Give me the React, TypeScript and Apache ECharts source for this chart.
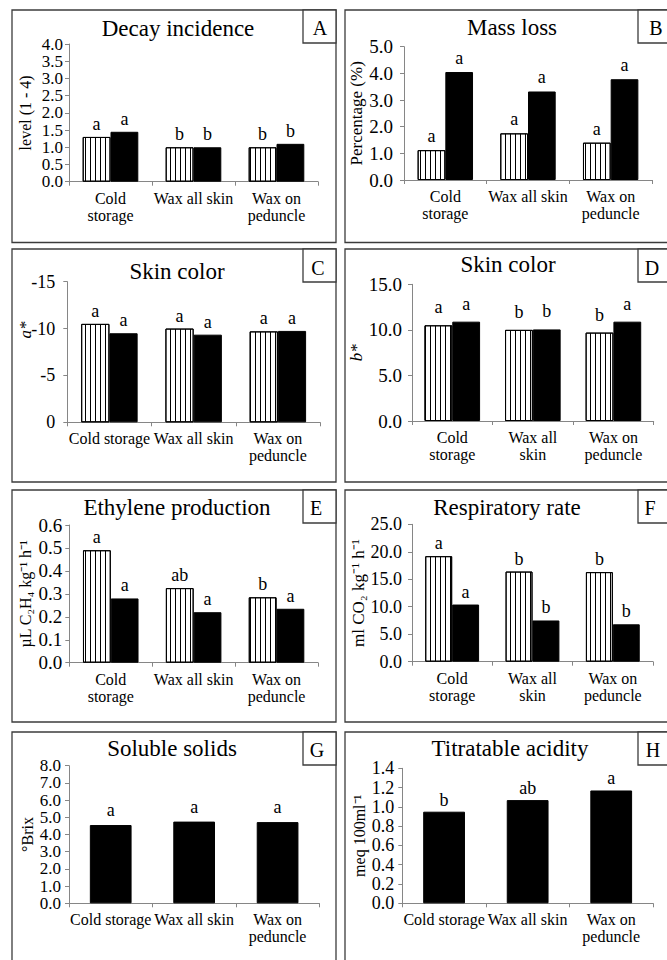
import React, { useEffect, useRef } from "react";
import * as echarts from "echarts";

// ---------- data ----------
const categories = ["Cold storage", "Wax all skin", "Wax on peduncle"];
const labelsTwoLine = ["Cold\nstorage", "Wax all skin", "Wax on\npeduncle"];
const labelsOneLine = ["Cold storage", "Wax all skin", "Wax on\npeduncle"];
const labelsNarrow = ["Cold\nstorage", "Wax all\nskin", "Wax on\npeduncle"];

// A Decay incidence
const decayStriped = [1.3, 1.0, 1.0];
const decayBlack = [1.45, 1.0, 1.1];
const decayStripedLetters = ["a", "b", "b"];
const decayBlackLetters = ["a", "b", "b"];
// B Mass loss
const massStriped = [1.12, 1.75, 1.4];
const massBlack = [4.05, 3.32, 3.78];
const massStripedLetters = ["a", "a", "a"];
const massBlackLetters = ["a", "a", "a"];
// C Skin color a*
const aStarStriped = [-10.5, -10.0, -9.7];
const aStarBlack = [-9.5, -9.35, -9.75];
const aStarStripedLetters = ["a", "a", "a"];
const aStarBlackLetters = ["a", "a", "a"];
// D Skin color b*
const bStarStriped = [10.5, 10.0, 9.7];
const bStarBlack = [10.9, 10.05, 10.9];
const bStarStripedLetters = ["a", "b", "b"];
const bStarBlackLetters = ["a", "b", "a"];
// E Ethylene production
const ethyleneStriped = [0.49, 0.325, 0.285];
const ethyleneBlack = [0.28, 0.22, 0.235];
const ethyleneStripedLetters = ["a", "ab", "b"];
const ethyleneBlackLetters = ["a", "a", "a"];
// F Respiratory rate
const respStriped = [19.2, 16.4, 16.3];
const respBlack = [10.4, 7.5, 6.8];
const respStripedLetters = ["a", "b", "b"];
const respBlackLetters = ["a", "b", "b"];
// G Soluble solids
const solidsBlack = [4.55, 4.75, 4.72];
const solidsLetters = ["a", "a", "a"];
// H Titratable acidity
const acidityBlack = [0.95, 1.07, 1.17];
const acidityLetters = ["b", "ab", "a"];

const FONT = "Liberation Serif";

type SeriesDef = { values: number[]; letters: string[]; striped: boolean };
type Panel = {
  letter: string;
  title: string;
  titleX: number;
  titleY: number;
  col: number;
  row: number;
  letterX: number;
  letterY: number;
  grid: [number, number, number, number]; // left, top, right, bottom
  min: number;
  max: number;
  interval: number;
  decimals: number;
  inverse?: boolean;
  yName: string;
  nameGap: number;
  nameSize: number;
  tickSize: number;
  labelMargin: number;
  labels: string[];
  series: SeriesDef[];
  labelDist: number;
  gap: string;
};

const panels: Panel[] = [
  {
    letter: "A", title: "Decay incidence", titleX: 178, titleY: 28, col: 0, row: 0, letterX: 320, letterY: 28,
    grid: [69, 44, 318, 181.7], min: 0, max: 4, interval: 0.5, decimals: 1,
    yName: "level (1 - 4)", nameGap: 36, nameSize: 16, tickSize: 17, labelMargin: 6, labels: labelsTwoLine,
    series: [
      { values: decayStriped, letters: decayStripedLetters, striped: true },
      { values: decayBlack, letters: decayBlackLetters, striped: false },
    ],
    labelDist: 4, gap: "33%",
  },
  {
    letter: "B", title: "Mass loss", titleX: 512, titleY: 27.5, col: 1, row: 0, letterX: 656, letterY: 28,
    grid: [404, 46.7, 652, 180], min: 0, max: 5, interval: 1, decimals: 1,
    yName: "Percentage (%)", nameGap: 35, nameSize: 17, tickSize: 19, labelMargin: 11, labels: labelsTwoLine,
    series: [
      { values: massStriped, letters: massStripedLetters, striped: true },
      { values: massBlack, letters: massBlackLetters, striped: false },
    ],
    labelDist: 5, gap: "33%",
  },
  {
    letter: "C", title: "Skin color", titleX: 177, titleY: 271, col: 0, row: 1, letterX: 318, letterY: 268,
    grid: [67.3, 281.7, 320, 422.3], min: -15, max: 0, interval: 5, decimals: 0, inverse: true,
    yName: "", nameGap: 36, nameSize: 16, tickSize: 18, labelMargin: 12, labels: labelsOneLine,
    series: [
      { values: aStarStriped, letters: aStarStripedLetters, striped: true },
      { values: aStarBlack, letters: aStarBlackLetters, striped: false },
    ],
    labelDist: 4, gap: "33%",
  },
  {
    letter: "D", title: "Skin color", titleX: 508, titleY: 264, col: 1, row: 1, letterX: 652, letterY: 268,
    grid: [412, 284.3, 653.7, 421], min: 0, max: 15, interval: 5, decimals: 1,
    yName: "b*", nameGap: 46, nameSize: 17, tickSize: 19, labelMargin: 10, labels: labelsNarrow,
    series: [
      { values: bStarStriped, letters: bStarStripedLetters, striped: true },
      { values: bStarBlack, letters: bStarBlackLetters, striped: false },
    ],
    labelDist: 9, gap: "31%",
  },
  {
    letter: "E", title: "Ethylene production", titleX: 177, titleY: 507.5, col: 0, row: 2, letterX: 316, letterY: 508,
    grid: [69.3, 525, 318, 662.7], min: 0, max: 0.6, interval: 0.1, decimals: 1,
    yName: "µL C₂H₄ kg⁻¹ h⁻¹", nameGap: 36, nameSize: 16, tickSize: 19, labelMargin: 7, labels: labelsTwoLine,
    series: [
      { values: ethyleneStriped, letters: ethyleneStripedLetters, striped: true },
      { values: ethyleneBlack, letters: ethyleneBlackLetters, striped: false },
    ],
    labelDist: 4, gap: "33%",
  },
  {
    letter: "F", title: "Respiratory rate", titleX: 507, titleY: 507.5, col: 1, row: 2, letterX: 650, letterY: 508,
    grid: [412, 524.3, 653, 661.7], min: 0, max: 25, interval: 5, decimals: 1,
    yName: "ml CO₂ kg⁻¹ h⁻¹", nameGap: 44, nameSize: 17, tickSize: 18, labelMargin: 10, labels: labelsNarrow,
    series: [
      { values: respStriped, letters: respStripedLetters, striped: true },
      { values: respBlack, letters: respBlackLetters, striped: false },
    ],
    labelDist: 4, gap: "33%",
  },
  {
    letter: "G", title: "Soluble solids", titleX: 172, titleY: 748.3, col: 0, row: 3, letterX: 317, letterY: 750,
    grid: [69, 765.7, 319.3, 903.3], min: 0, max: 8, interval: 1, decimals: 1,
    yName: "°Brix", nameGap: 34, nameSize: 16, tickSize: 17, labelMargin: 8, labels: labelsOneLine,
    series: [{ values: solidsBlack, letters: solidsLetters, striped: false }],
    labelDist: 6, gap: "50%",
  },
  {
    letter: "H", title: "Titratable acidity", titleX: 510, titleY: 748, col: 1, row: 3, letterX: 653, letterY: 750,
    grid: [402.3, 768.3, 653, 903.3], min: 0, max: 1.4, interval: 0.2, decimals: 1,
    yName: "meq 100ml⁻¹", nameGap: 35, nameSize: 16, tickSize: 18, labelMargin: 8, labels: labelsOneLine,
    series: [{ values: acidityBlack, letters: acidityLetters, striped: false }],
    labelDist: 3, gap: "50%",
  },
];

const colX = [[12, 336], [345, 690]];
const rowY = [[10, 242.5], [249, 482], [490, 722], [732, 980]];

const stripeDecal = {
  symbol: "rect",
  symbolSize: 1,
  color: "#000",
  dashArrayX: [1, 3.5],
  dashArrayY: [4, 0],
  rotation: 0,
};

const AXIS_GRAY = "#868686";

export default function App() {
  const ref = useRef<HTMLDivElement>(null);
  useEffect(() => {
    if (!ref.current) return;
    const chart = echarts.init(ref.current, undefined, { renderer: "svg" });

    const grid: any[] = [];
    const xAxis: any[] = [];
    const yAxis: any[] = [];
    const series: any[] = [];
    const graphic: any[] = [];

    panels.forEach((p, i) => {
      const [l, t, r, b] = p.grid;
      grid.push({ left: l, top: t, width: r - l, height: b - t, containLabel: false });
      xAxis.push({
        type: "category",
        gridIndex: i,
        data: p.labels,
        axisLine: { show: true, lineStyle: { color: AXIS_GRAY, width: 1 } },
        axisTick: { show: true, length: 4, lineStyle: { color: AXIS_GRAY } },
        axisLabel: { interval: 0, fontFamily: FONT, fontSize: 16, lineHeight: 17, color: "#000", margin: 8 },
      });
      yAxis.push({
        type: "value",
        gridIndex: i,
        min: p.min,
        max: p.max,
        interval: p.interval,
        inverse: !!p.inverse,
        axisLine: { show: true, lineStyle: { color: AXIS_GRAY, width: 1 } },
        axisTick: { show: true, length: 4, lineStyle: { color: AXIS_GRAY } },
        splitLine: { show: false },
        axisLabel: {
          fontFamily: FONT,
          fontSize: p.tickSize,
          color: "#000",
          margin: p.labelMargin,
          showMinLabel: true,
          showMaxLabel: true,
          hideOverlap: false,
          formatter: (v: number) => v.toFixed(p.decimals),
        },
        name: p.yName,
        nameLocation: "middle",
        nameGap: p.nameGap,
        nameRotate: 90,
        nameTextStyle: {
          fontFamily: FONT,
          fontSize: p.nameSize,
          color: "#000",
          fontStyle: p.yName === "b*" ? "italic" : "normal",
        },
      });
      p.series.forEach((s) => {
        series.push({
          type: "bar",
          name: categories.join("/"),
          xAxisIndex: i,
          yAxisIndex: i,
          data: s.values,
          barGap: "0%",
          barCategoryGap: p.gap,
          itemStyle: {
            color: s.striped ? "#fff" : "#000",
            borderColor: "#000",
            borderWidth: 1,
            ...(s.striped ? { decal: stripeDecal } : {}),
          },
          label: {
            show: true,
            position: "top",
            distance: p.labelDist,
            fontFamily: FONT,
            fontSize: 18,
            color: "#000",
            formatter: (prm: any) => s.letters[prm.dataIndex],
          },
        });
      });

      const [x0, x1] = colX[p.col];
      const [y0, y1] = rowY[p.row];
      graphic.push({
        type: "rect",
        silent: true,
        shape: { x: x0, y: y0, width: x1 - x0, height: y1 - y0 },
        style: { fill: "none", stroke: "#3c3c3c", lineWidth: 1.3 },
      });
      const bx = p.col === 0 ? 303 : 638;
      graphic.push({
        type: "rect",
        silent: true,
        shape: { x: bx, y: y0, width: x1 - bx, height: 33 },
        style: { fill: "#fff", stroke: "#3c3c3c", lineWidth: 1.3 },
      });
      graphic.push({
        type: "text",
        silent: true,
        x: p.letterX,
        y: p.letterY,
        style: { text: p.letter, fontFamily: FONT, fontSize: 20, fill: "#000", align: "center", verticalAlign: "middle" },
      });
      graphic.push({
        type: "text",
        silent: true,
        x: p.titleX,
        y: p.titleY,
        style: { text: p.title, fontFamily: FONT, fontSize: 23, fill: "#000", align: "center", verticalAlign: "middle" },
      });
    });

    // y-axis name of panel C (placed above the centre, as in the original)
    graphic.push({
      type: "text",
      silent: true,
      x: 25,
      y: 330,
      rotation: Math.PI / 2,
      style: { text: "a*", fontFamily: FONT, fontSize: 17, fontStyle: "italic", fill: "#000", align: "center", verticalAlign: "middle" },
    });

    chart.setOption({
      animation: false,
      backgroundColor: "#fff",
      grid,
      xAxis,
      yAxis,
      series,
      graphic,
    });
    return () => chart.dispose();
  }, []);
  return <div ref={ref} style={{ position: "absolute", left: 0, top: 0, width: 667, height: 960 }} />;
}
